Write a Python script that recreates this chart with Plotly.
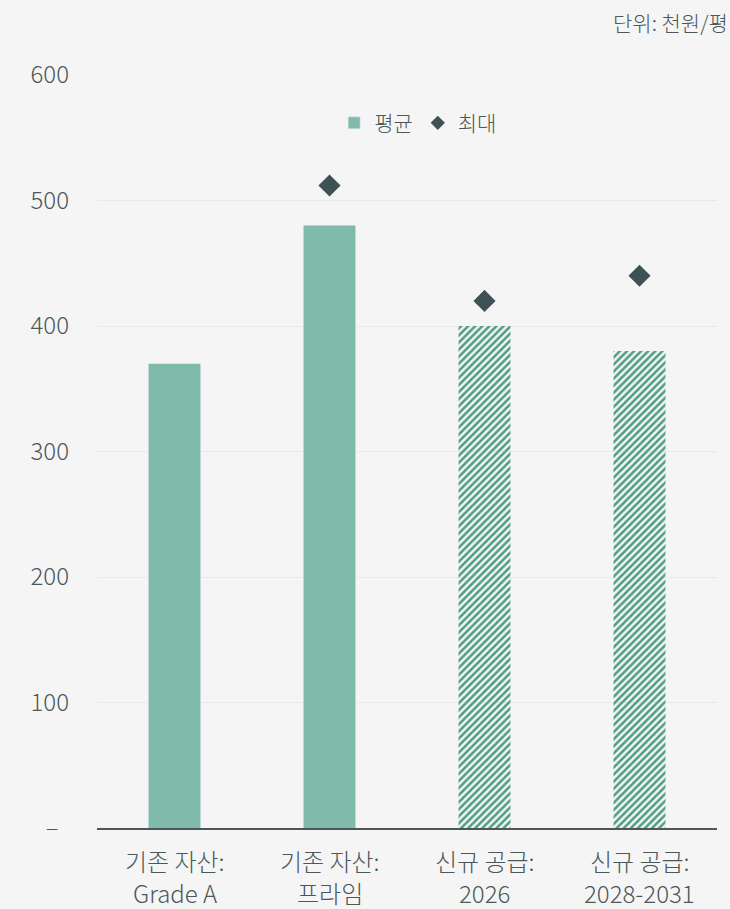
import plotly.graph_objects as go

categories = ["기존 자산:<br>Grade A", "기존 자산:<br>프라임", "신규 공급:<br>2026", "신규 공급:<br>2028-2031"]
label_line1 = ["기존 자산:", "기존 자산:", "신규 공급:", "신규 공급:"]
label_line2 = ["Grade A", "프라임", "2026", "2028-2031"]
avg_values = [370, 480, 400, 380]
max_values = [None, 512, 420, 440]
y_tick_vals = [0, 100, 200, 300, 400, 500, 600]
y_tick_text = ["–\u00a0\u00a0", "100", "200", "300", "400", "500", "600"]
patterns = ["", "", "/", "/"]

FONT = "Noto Sans CJK KR"
W = 300
TXT = "#4b5759"
BAR = "#7fbaab"
LIGHT = "#c6e4da"
STRIPE = "#4d9c84"
DIA = "#3e5256"

fig = go.Figure()
fig.add_trace(go.Bar(
    x=categories, y=avg_values, name="평균",
    width=0.335,
    marker=dict(
        color=[BAR, BAR, STRIPE, STRIPE],
        line=dict(width=0),
        pattern=dict(shape=patterns,
                     fgcolor=[BAR, BAR, STRIPE, STRIPE],
                     bgcolor=[BAR, BAR, LIGHT, LIGHT],
                     fgopacity=1, size=5, solidity=0.5, fillmode="replace"),
    ),
    showlegend=False,
))
# legend proxies
fig.add_trace(go.Bar(x=[categories[0]], y=[None], name="평균",
                     marker=dict(color=BAR), showlegend=True))
fig.add_trace(go.Scatter(x=[categories[0]], y=[None], name="최대", mode="markers",
                         marker=dict(symbol="diamond", size=11, color=DIA),
                         showlegend=True))
fig.add_trace(go.Scatter(
    x=categories, y=max_values, name="최대", mode="markers",
    marker=dict(symbol="diamond", size=17, color=DIA), showlegend=False,
))

annotations = [dict(text="단위: 천원/평", xref="paper", yref="paper", x=1, y=1,
                    xanchor="right", yanchor="bottom", xshift=13, yshift=36,
                    showarrow=False, font=dict(size=21, color=TXT, weight=W))]
for c, l1, l2 in zip(categories, label_line1, label_line2):
    annotations.append(dict(text=l1, x=c, xref="x", yref="paper", y=-0.0438,
                            xanchor="center", yanchor="middle", showarrow=False,
                            font=dict(size=24, color=TXT, weight=W)))
    annotations.append(dict(text=l2, x=c, xref="x", yref="paper", y=-0.085,
                            xanchor="center", yanchor="middle", showarrow=False,
                            font=dict(size=24, color=TXT, weight=W)))

fig.update_layout(
    width=730, height=909,
    paper_bgcolor="#f5f5f5", plot_bgcolor="#f5f5f5",
    margin=dict(l=97, r=13, t=75, b=81, autoexpand=False),
    font=dict(family=FONT, color=TXT, size=20, weight=W),
    barmode="overlay",
    showlegend=True,
    legend=dict(orientation="h", x=0.518, xanchor="center", y=0.936, yanchor="middle",
                bgcolor="rgba(0,0,0,0)", font=dict(size=21, color=TXT, weight=W),
                itemwidth=30, traceorder="normal"),
    xaxis=dict(showgrid=False, showline=True, linecolor="#4b5759", linewidth=2,
               ticks="", showticklabels=False, automargin=False),
    yaxis=dict(range=[0, 600], tickvals=y_tick_vals, ticktext=y_tick_text,
               showgrid=True, gridcolor="#e9e9e9", gridwidth=1, zeroline=False,
               showline=False, ticks="", ticklabelstandoff=27,
               tickfont=dict(size=24, color=TXT, weight=W), automargin=False),
    annotations=annotations,
)

fig.write_html("out.html", config={"displayModeBar": False},
               post_script="document.body.style.margin='0';document.body.style.padding='0';")
